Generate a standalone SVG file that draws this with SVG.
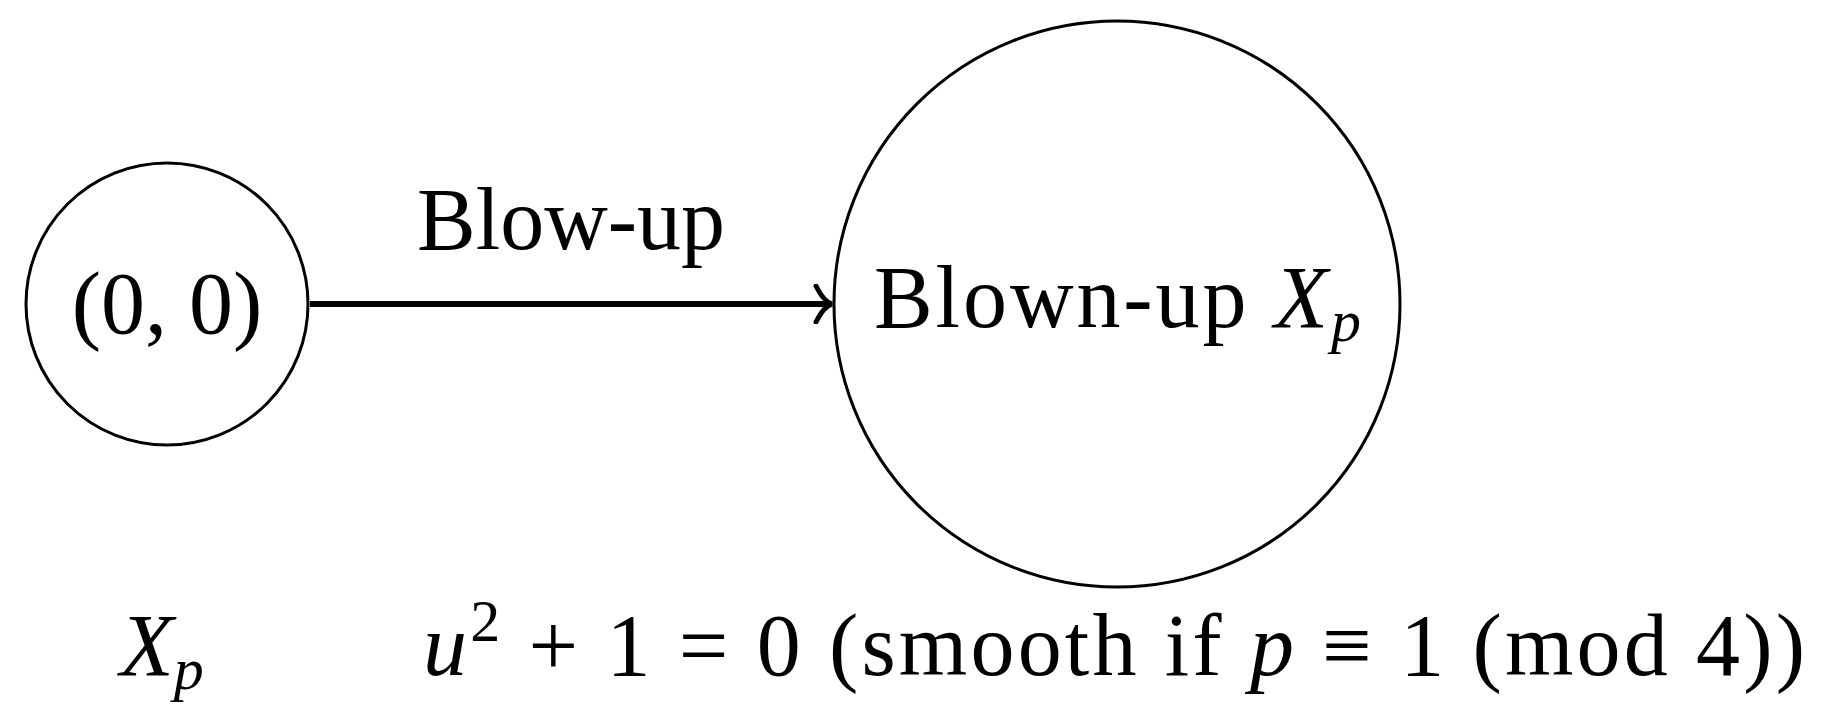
<svg xmlns="http://www.w3.org/2000/svg" width="1822" height="725" viewBox="0 0 1822 725">
<style>
text{font-family:"Liberation Serif",serif;font-size:88px;fill:#000}
.it{font-style:italic}
.n{fill:none;stroke:#000;stroke-width:3}
</style>
<defs><marker id="a" markerWidth="24" markerHeight="40" refX="20" refY="20" orient="auto" markerUnits="userSpaceOnUse"><path d="M4 2 Q12 18 20 20 Q12 22 4 38" fill="none" stroke="#000" stroke-width="5" stroke-linecap="round"/></marker></defs>
<g id="node-origin"><circle class="n" cx="167" cy="304" r="141"/><text x="167" y="333" text-anchor="middle">(0, 0)</text></g>
<g id="node-blownup"><circle class="n" cx="1117" cy="304" r="283"/><text x="874" y="327" textLength="487">Blown-up <tspan class="it">X</tspan><tspan class="it" font-size="60" dy="14">p</tspan></text></g>
<g id="connectors"><line x1="310" y1="304" x2="832" y2="304" stroke="#000" stroke-width="6" marker-end="url(#a)"/><text x="571" y="249" text-anchor="middle">Blow-up</text></g>
<g id="labels">
<text x="120" y="675" class="it">X<tspan font-size="60" dy="14">p</tspan></text>
<text x="423" y="675" textLength="1382"><tspan class="it">u</tspan><tspan font-size="60" dy="-34">2</tspan><tspan dy="34"> + 1 = 0 (smooth if </tspan><tspan class="it">p</tspan> ≡ 1  (mod 4))</text>
</g>
</svg>
